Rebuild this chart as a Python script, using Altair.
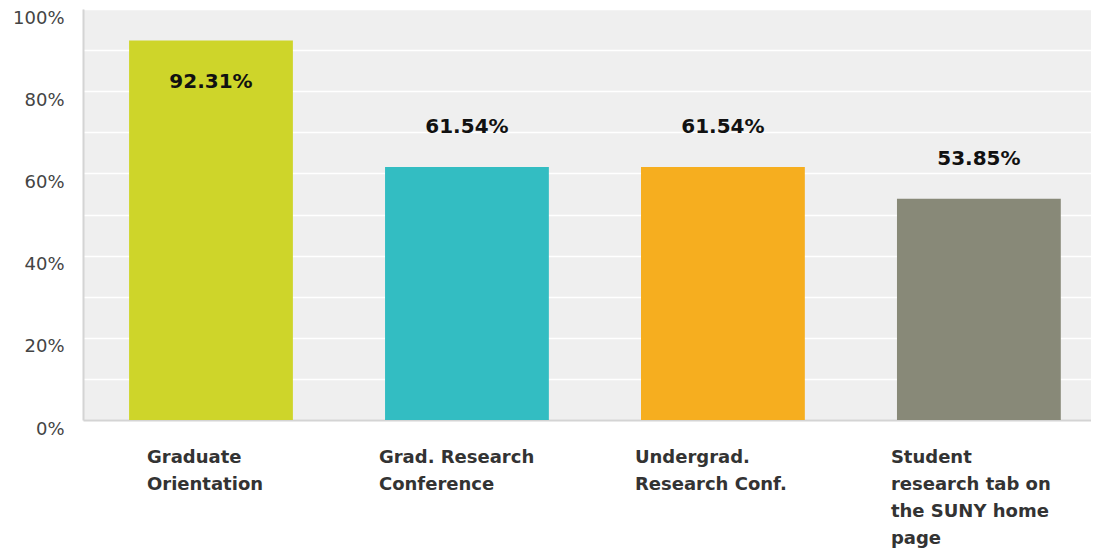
import altair as alt
import pandas as pd

categories = [
    "Graduate\nOrientation",
    "Grad. Research\nConference",
    "Undergrad.\nResearch Conf.",
    "Student\nresearch tab on\nthe SUNY home\npage",
]
values = [0.9231, 0.6154, 0.6154, 0.5385]
labels = ["92.31%", "61.54%", "61.54%", "53.85%"]
colors = ["#CED52A", "#33BDC2", "#F6AE1F", "#888978"]

df = pd.DataFrame({"category": categories, "value": values, "label": labels})

x_enc = alt.X(
    "category:N",
    sort=categories,
    title=None,
    scale=alt.Scale(paddingInner=0.36, paddingOuter=0.149, align=0.604),
    axis=alt.Axis(
        labelExpr="split(datum.label, '\\n')",
        labelAngle=0,
        labelAlign="left",
        labelBaseline="top",
        labelPadding=28,
        labelLineHeight=27,
        labelOffset={"condition": {"test": "datum.value == 'Graduate\\nOrientation'", "value": -64}, "value": -88},
        labelFont="DejaVu Sans",
        labelFontWeight="bold",
        labelFontSize=18,
        labelColor="#333333",
        ticks=False,
        domainColor="#D4D4D4",
        domainWidth=2,
        grid=False,
    ),
)

y_enc = alt.Y(
    "value:Q",
    title=None,
    scale=alt.Scale(domain=[0, 1], nice=False),
    axis=alt.Axis(
        values=[0, 0.1, 0.2, 0.3, 0.4, 0.5, 0.6, 0.7, 0.8, 0.9, 1.0],
        format=".0%",
        labelExpr="round(datum.value*10) % 2 == 0 ? datum.label : ''",
        labelFont="DejaVu Sans",
        labelFontSize=18,
        labelColor="#444444",
        labelBaseline="middle",
        labelOffset=9,
        labelPadding=19,
        ticks=False,
        domainColor="#D4D4D4",
        domainWidth=2,
        gridColor="#FFFFFF",
        gridWidth=1.5,
    ),
)

bars = alt.Chart(df).mark_bar().encode(
    x=x_enc,
    y=y_enc,
    color=alt.Color("category:N", sort=categories,
                    scale=alt.Scale(domain=categories, range=colors), legend=None),
)

text_style = dict(font="DejaVu Sans", fontWeight="bold", fontSize=20, color="#111111",
                  align="center", baseline="middle")

labels_above = alt.Chart(df).transform_filter("datum.value < 0.85").mark_text(
    dy=-40, **text_style
).encode(
    x=alt.X("category:N", sort=categories),
    y=alt.Y("value:Q"),
    text="label:N",
)

labels_inside = alt.Chart(df).transform_filter("datum.value >= 0.85").mark_text(
    dy=41, **text_style
).encode(
    x=alt.X("category:N", sort=categories),
    y=alt.Y("value:Q"),
    text="label:N",
)

chart = alt.layer(bars, labels_above, labels_inside).properties(
    width=1008,
    height=411,
    autosize=alt.AutoSizeParams(type="none"),
    padding={"left": 75, "top": 1, "right": 0, "bottom": 130},
    background="#FFFFFF",
).configure_view(
    fill="#EFEFEF",
    stroke=None,
)

chart.save("out.html", embed_options={"renderer": "svg", "actions": False})
